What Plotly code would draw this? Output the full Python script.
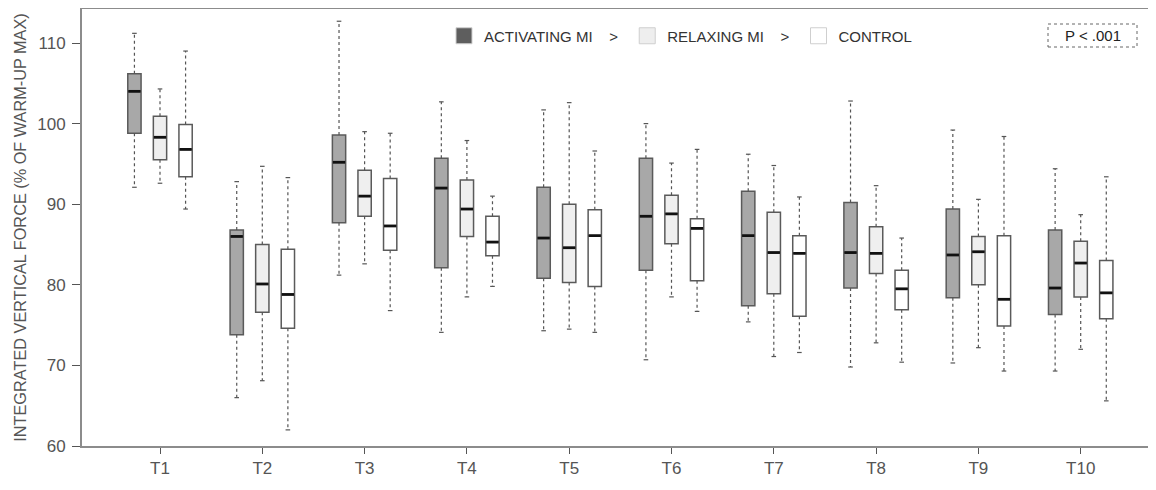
import plotly.graph_objects as go

categories = ["T1", "T2", "T3", "T4", "T5", "T6", "T7", "T8", "T9", "T10"]
series_names = ["ACTIVATING MI", "RELAXING MI", "CONTROL"]

# Activating MI
act_low = [92.1, 66.0, 81.2, 74.1, 74.3, 70.7, 75.4, 69.8, 70.3, 69.3]
act_q1 = [98.8, 73.8, 87.7, 82.1, 80.8, 81.8, 77.4, 79.6, 78.4, 76.3]
act_med = [104.0, 86.0, 95.2, 92.0, 85.8, 88.5, 86.1, 84.0, 83.7, 79.6]
act_q3 = [106.2, 86.8, 98.6, 95.7, 92.1, 95.7, 91.6, 90.2, 89.4, 86.8]
act_high = [111.2, 92.8, 112.7, 102.7, 101.7, 100.0, 96.2, 102.8, 99.2, 94.4]

# Relaxing MI
rel_low = [92.6, 68.1, 82.6, 78.5, 74.5, 78.5, 71.1, 72.8, 72.2, 72.0]
rel_q1 = [95.5, 76.6, 88.5, 86.0, 80.3, 85.1, 78.9, 81.4, 80.0, 78.5]
rel_med = [98.3, 80.1, 91.0, 89.4, 84.6, 88.8, 84.0, 83.9, 84.1, 82.7]
rel_q3 = [100.9, 85.0, 94.2, 93.0, 90.0, 91.1, 89.0, 87.2, 86.0, 85.4]
rel_high = [104.3, 94.7, 99.0, 97.9, 102.6, 95.1, 94.8, 92.3, 90.6, 88.7]

# Control
con_low = [89.4, 62.0, 76.8, 79.8, 74.1, 76.7, 71.6, 70.4, 69.3, 65.6]
con_q1 = [93.4, 74.6, 84.3, 83.6, 79.8, 80.5, 76.1, 76.9, 74.9, 75.8]
con_med = [96.8, 78.8, 87.3, 85.3, 86.1, 87.0, 83.9, 79.5, 78.2, 79.0]
con_q3 = [99.9, 84.4, 93.2, 88.5, 89.3, 88.2, 86.1, 81.8, 86.1, 83.0]
con_high = [109.0, 93.3, 98.8, 91.0, 96.6, 96.8, 90.9, 85.8, 98.4, 93.4]

y_ticks = [60, 70, 80, 90, 100, 110]

groups = [
    (act_low, act_q1, act_med, act_q3, act_high),
    (rel_low, rel_q1, rel_med, rel_q3, rel_high),
    (con_low, con_q1, con_med, con_q3, con_high),
]
fills = ["#a8a8a8", "#efefef", "#ffffff"]
legend_fills = ["#5e5e5e", "#eeeeee", "#ffffff"]
offsets = [-0.25, 0.0, 0.25]
box_w = 0.13
cap_w = 0.045

# figure is shown with the page's default 8px body margin
OFF = 8
FW, FH = 1140, 474
L, R, T, B = 74, 0, 1, 36
PW, PH = FW - L - R, FH - T - B
PX_PER_UNIT_X = 102.3
PX_PER_UNIT_Y = 8.06
x0 = -((160 - OFF - L) / PX_PER_UNIT_X)
x_range = [x0, x0 + PW / PX_PER_UNIT_X]
y_range = [60, 60 + PH / PX_PER_UNIT_Y]


def px_x(px):
    return (px - OFF - L) / PW


def px_y(py):
    return (FH - B - (py - OFF)) / PH


fig = go.Figure()
base = list(range(len(categories)))

for gi, (lo, q1, md, q3, hi) in enumerate(groups):
    xs = [b + offsets[gi] for b in base]
    wx, wy = [], []
    cx, cy = [], []
    for x, l, a, c, h in zip(xs, lo, q1, q3, hi):
        wx += [x, x, None, x, x, None]
        wy += [c, h, None, a, l, None]
        cx += [x - cap_w / 2, x + cap_w / 2, None, x - cap_w / 2, x + cap_w / 2, None]
        cy += [h, h, None, l, l, None]
    fig.add_trace(go.Scatter(x=wx, y=wy, mode="lines", showlegend=False, hoverinfo="skip",
                             line=dict(color="#555555", width=1.2, dash="dot")))
    fig.add_trace(go.Scatter(x=cx, y=cy, mode="lines", showlegend=False, hoverinfo="skip",
                             line=dict(color="#555555", width=1.2)))
    fig.add_trace(go.Box(x=xs, q1=q1, median=md, q3=q3, lowerfence=q1, upperfence=q3,
                         width=box_w, whiskerwidth=0, fillcolor=fills[gi],
                         line=dict(color="#5a5a5a", width=1.5), showlegend=False,
                         name=series_names[gi]))
    mx, my = [], []
    for x, m in zip(xs, md):
        mx += [x - box_w / 2 + 0.005, x + box_w / 2 - 0.005, None]
        my += [m, m, None]
    fig.add_trace(go.Scatter(x=mx, y=my, mode="lines", showlegend=False, hoverinfo="skip",
                             line=dict(color="#111111", width=2.8)))

sep = "\u00a0\u00a0\u00a0\u00a0>\u00a0"
legend_labels = [series_names[0] + sep, series_names[1] + sep, series_names[2]]
for gi in range(3):
    fig.add_trace(go.Scatter(x=[None], y=[None], mode="markers", name=legend_labels[gi],
                             marker=dict(symbol="square", size=16, color=legend_fills[gi],
                                         line=dict(color="#cfcfcf", width=1))))

fig.add_shape(type="rect", xref="paper", yref="paper",
              x0=px_x(1048), x1=px_x(1137), y0=px_y(47), y1=px_y(24),
              line=dict(color="#666666", width=1, dash="dot"))
fig.add_annotation(xref="paper", yref="paper", x=px_x(1092.5), y=px_y(35.5),
                   text="P < .001", showarrow=False, xanchor="center", yanchor="middle",
                   font=dict(family="Liberation Sans, Arial, sans-serif", size=15, color="#222222"))

fig.update_layout(
    width=FW, height=FH,
    margin=dict(l=L, r=R, t=T, b=B, autoexpand=False),
    paper_bgcolor="white", plot_bgcolor="white",
    font=dict(family="Liberation Sans, Arial, sans-serif", size=15, color="#555555"),
    boxmode="overlay",
    legend=dict(orientation="h", x=px_x(444), y=px_y(36),
                xanchor="left", yanchor="middle", font=dict(size=15, color="#333333"),
                itemwidth=30, tracegroupgap=0, bgcolor="rgba(0,0,0,0)"),
    xaxis=dict(range=x_range, tickmode="array", tickvals=base, ticktext=categories,
               showgrid=False, zeroline=False, showline=True, linecolor="#8c8c8c",
               linewidth=2, mirror=True, ticks="outside", ticklen=6, tickcolor="#555555",
               tickfont=dict(size=17, color="#555555"), automargin=False),
    yaxis=dict(range=y_range, tickvals=y_ticks, showgrid=False, zeroline=False,
               showline=True, linecolor="#8c8c8c", linewidth=2, ticks="outside",
               ticklen=8, tickcolor="#555555", tickfont=dict(size=17, color="#555555"),
               ticklabelstandoff=3, automargin=False,
               title=dict(text="INTEGRATED VERTICAL FORCE (% OF WARM-UP MAX)",
                          font=dict(size=16.3, color="#555555"), standoff=7)),
)

fig.write_html("out.html")
